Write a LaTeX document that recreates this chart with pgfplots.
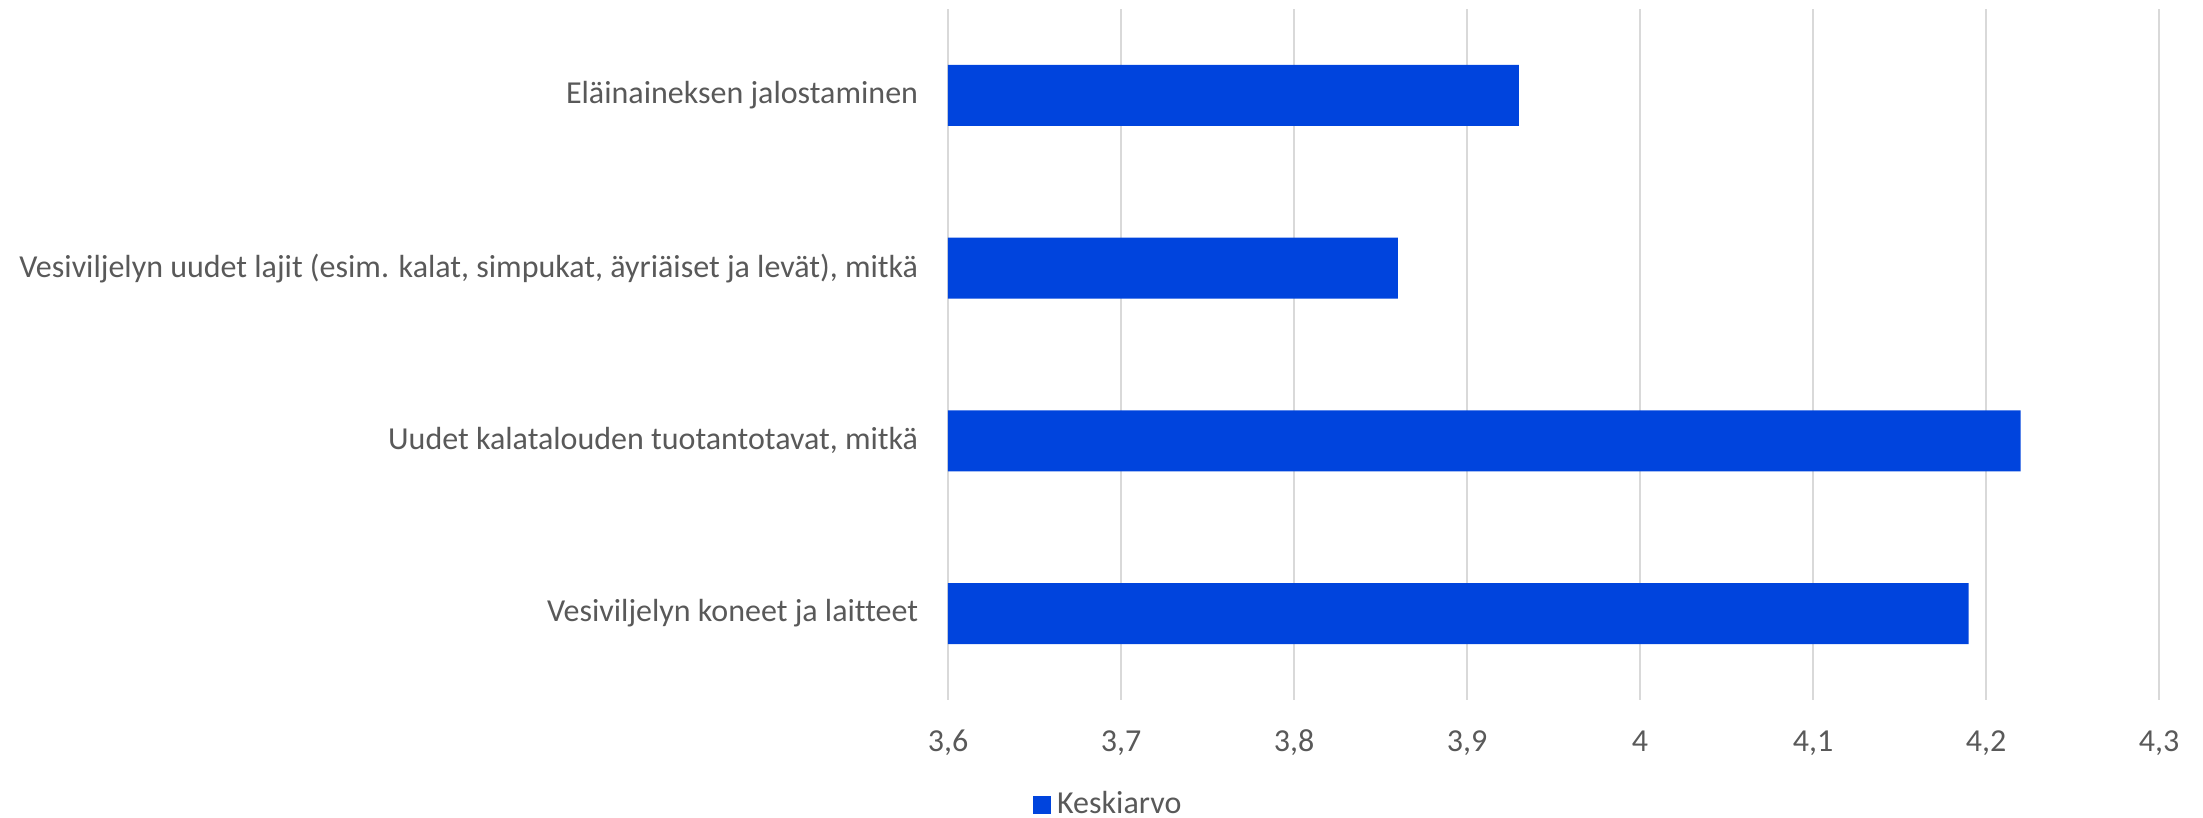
\documentclass[border=0pt]{standalone}
\usepackage{pgfplots}
\pgfplotsset{compat=1.18}
\usepackage{fontspec}
\setmainfont{Carlito}[Ligatures={NoCommon}]
\definecolor{barblue}{RGB}{0,68,221}
\definecolor{txtgray}{RGB}{89,89,89}
\definecolor{gridgray}{RGB}{217,217,217}
\begin{document}
\begin{tikzpicture}
\useasboundingbox (-284.4pt,-35.4pt) rectangle (376.5pt,210pt);
\begin{axis}[
  at={(0,0)}, anchor=south west,
  scale only axis,
  width=363.3pt, height=207.3pt,
  xbar, bar width=18.3pt,
  xmin=3.6, xmax=4.3,
  ymin=-0.5, ymax=3.5,
  axis line style={draw=none},
  tick style={draw=none},
  xtick={3.6,3.7,3.8,3.9,4.0,4.1,4.2,4.3},
  xticklabels={{3,6},{3,7},{3,8},{3,9},{4},{4,1},{4,2},{4,3}},
  ytick={0,1,2,3},
  yticklabels={Vesiviljelyn koneet ja laitteet, {Uudet kalatalouden tuotantotavat, mitkä}, {Vesiviljelyn uudet lajit (esim. kalat, simpukat, äyriäiset ja levät), mitkä}, Eläinaineksen jalostaminen},
  xmajorgrids,
  grid style={gridgray, line width=0.6pt},
  font=\fontsize{9.6pt}{11.5pt}\selectfont,
  ticklabel style={text=txtgray},
  xticklabel style={anchor=base, inner sep=0pt, yshift=-15.6pt},
  yticklabel style={anchor=east, inner sep=0pt, xshift=-4.5pt},
  legend style={at={(0.134,-0.152)}, anchor=center, draw=none, fill=none,
    font=\fontsize{9.6pt}{11.5pt}\selectfont, text=txtgray,
    inner sep=0pt, outer sep=0pt},
  legend image code/.code={\fill[barblue] (0pt,-2.7pt) rectangle (5.4pt,2.7pt);},
]
\addplot[fill=barblue, draw=none] coordinates {(4.19,0) (4.22,1) (3.86,2) (3.93,3)};
\addlegendentry{Keskiarvo}
\end{axis}
\end{tikzpicture}
\end{document}
